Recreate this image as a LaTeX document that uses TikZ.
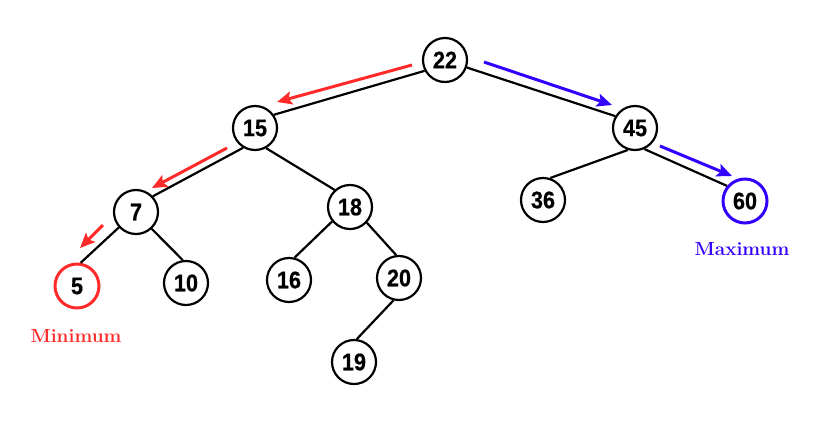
\documentclass[tikz,border=0pt]{standalone}
\usepackage{fontspec}
\newfontfamily\numfont[FakeStretch=0.9,FakeBold=0.6]{Liberation Sans}
\usetikzlibrary{arrows.meta}
\definecolor{minred}{HTML}{FF2A2A}
\definecolor{maxblue}{HTML}{3300FF}
\begin{document}
\begin{tikzpicture}[x=1pt,y=-1pt,
  tnode/.style={circle,draw=black,line width=2.2pt,minimum size=44pt,inner sep=0pt,
    font=\numfont\bfseries\fontsize{24}{24}\selectfont},
  edge/.style={line width=2.2pt,black},
  redarrow/.style={line width=3pt,minred,-{Stealth[length=15pt,width=13pt,inset=3pt]}},
  bluearrow/.style={line width=3pt,maxblue,-{Stealth[length=15pt,width=13pt,inset=3pt]}},
  lbl/.style={font=\bfseries\fontsize{19}{19}\selectfont}]
\useasboundingbox (0,0) rectangle (822,424);
\node[tnode] (n22) at (445,60) {22};
\node[tnode] (n15) at (255,128) {15};
\node[tnode] (n45) at (635,128) {45};
\node[tnode] (n7) at (136,212) {7};
\node[tnode] (n18) at (350,207) {18};
\node[tnode] (n36) at (543,200) {36};
\node[tnode,draw=maxblue,line width=3pt] (n60) at (745,201) {60};
\node[tnode,draw=minred,line width=3pt] (n5) at (77,286) {5};
\node[tnode] (n10) at (186,283) {10};
\node[tnode] (n16) at (289,280) {16};
\node[tnode] (n20) at (399,278) {20};
\node[tnode] (n19) at (354,362) {19};
\draw[edge] (n22.208) -- (n15.35);
\draw[edge] (n22.341) -- (n45.149);
\draw[edge] (n15.239) -- (n7.43);
\draw[edge] (n15.299) -- (n18.132);
\draw[edge] (n45.252) -- (n36.72);
\draw[edge] (n45.294) -- (n60.140);
\draw[edge] (n7.222) -- (n5.81);
\draw[edge] (n7.313) -- (n10.98);
\draw[edge] (n18.219) -- (n16.76);
\draw[edge] (n18.317) -- (n20.97);
\draw[edge] (n20.256) -- (n19.83);
\coordinate (r1s) at (412,65);
\coordinate (r1e) at (277,102);
\coordinate (r2s) at (227,148);
\coordinate (r2e) at (152,188);
\coordinate (r3s) at (103,225);
\coordinate (r3e) at (80,248);
\coordinate (b1s) at (484,62);
\coordinate (b1e) at (612,105);
\coordinate (b2s) at (660,146);
\coordinate (b2e) at (732,176);
\draw[redarrow] (r1s) -- (r1e);
\draw[redarrow] (r2s) -- (r2e);
\draw[redarrow] (r3s) -- (r3e);
\draw[bluearrow] (b1s) -- (b1e);
\draw[bluearrow] (b2s) -- (b2e);
\node[lbl,text=minred] (minl) at (76,336) {Minimum};
\node[lbl,text=maxblue] (maxl) at (742,249) {Maximum};
\end{tikzpicture}
\end{document}
